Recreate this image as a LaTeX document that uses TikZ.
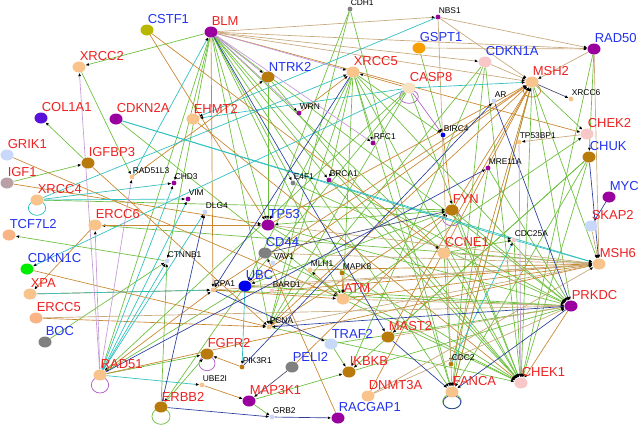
\documentclass[tikz,border=0pt]{standalone}
\usepackage{fontspec}
\setmainfont{Liberation Sans}
\usetikzlibrary{arrows.meta,shapes.geometric}
\pgfdeclarelayer{bg}
\pgfsetlayers{bg,main}
\definecolor{cG}{HTML}{6CBF3C}
\definecolor{cB}{HTML}{C8862E}
\definecolor{cN}{HTML}{C9A87A}
\definecolor{cT}{HTML}{2EC0C0}
\definecolor{cD}{HTML}{2A3FA0}
\definecolor{cK}{HTML}{4A4A70}
\definecolor{cL}{HTML}{C49AD6}
\definecolor{cP}{HTML}{B060C8}
\definecolor{nOr}{HTML}{F8C48C}
\definecolor{nPu}{HTML}{99009E}
\definecolor{nBr}{HTML}{B97A0C}
\definecolor{nGy}{HTML}{808080}
\definecolor{nLb}{HTML}{C8D8F8}
\definecolor{nPk}{HTML}{F8C8C8}
\definecolor{nCr}{HTML}{F8E2C2}
\definecolor{nGs}{HTML}{F5A000}
\definecolor{nOl}{HTML}{B8B800}
\definecolor{nGn}{HTML}{00EE00}
\definecolor{nBl}{HTML}{0000EE}
\definecolor{nCo}{HTML}{5A10D8}
\definecolor{nIg}{HTML}{B8A0A6}
\definecolor{nSa}{HTML}{F8B484}
\definecolor{lR}{HTML}{EE2222}
\definecolor{lB}{HTML}{2233EE}
\tikzset{
  bign/.style={ellipse, minimum width=9.75pt, minimum height=8.25pt, inner sep=0pt, draw=none},
  smalln/.style={circle, minimum size=3.6pt, inner sep=0pt, draw=none},
  bigl/.style={font=\fontsize{9.75}{10}\selectfont, inner sep=0pt, anchor=west},
  smalll/.style={font=\fontsize{6.3}{7}\selectfont, inner sep=0pt, anchor=west, text=black},
  lnk/.style={line width=0.5pt, -{Latex[length=2.6pt,width=2.2pt,color=black]}},
  eG/.style={lnk, draw=cG},
  eB/.style={lnk, draw=cB},
  eN/.style={lnk, draw=cN},
  eT/.style={lnk, draw=cT},
  eD/.style={lnk, draw=cD},
  eK/.style={lnk, draw=cK},
  eL/.style={lnk, draw=cL},
  eP/.style={lnk, draw=cP},
  loopc/.style={line width=0.55pt}
}
\newcommand{\BN}[5]{\node[bign,fill=#4] (#1) at (#2,#3) {}; \node[bigl,text=#5] (#1-l) at (#2+0.5,#3-10.5) {#1};}
\newcommand{\SNd}[4]{\node[smalln,fill=#4] (#1) at (#2,#3) {}; \node[smalll] (#1-l) at (#2+0.5,#3-6) {#1};}
\begin{document}
\begin{tikzpicture}[x=0.75pt,y=-0.75pt]
\useasboundingbox (0,0) rectangle (639,426);
% big nodes
\BN{CSTF1}{147}{30}{nOl}{lB}
\BN{BLM}{211}{32}{nPu}{lR}
\BN{XRCC2}{79}{67}{nOr}{lR}
\BN{COL1A1}{41}{118}{nCo}{lR}
\BN{CDKN2A}{116}{119}{nPu}{lR}
\BN{EHMT2}{193}{119}{nOr}{lR}
\BN{GRIK1}{7}{155}{nLb}{lR}
\BN{IGFBP3}{88}{163}{nBr}{lR}
\BN{IGF1}{7}{183}{nIg}{lR}
\BN{XRCC4}{37}{200}{nOr}{lR}
\BN{NTRK2}{268}{77}{nBr}{lB}
\BN{XRCC5}{353}{72}{nOr}{lR}
\BN{GSPT1}{419}{48}{nGs}{lB}
\BN{CASP8}{409}{88}{nCr}{lR}
\BN{RAD50}{594}{49}{nPu}{lB}
\BN{CDKN1A}{485}{62}{nPk}{lB}
\BN{MSH2}{532}{82}{nOr}{lR}
\BN{CHEK2}{587}{134}{nPk}{lR}
\BN{CHUK}{589}{157}{nBr}{lB}
\BN{MYC}{609}{197}{nPu}{lB}
\BN{FYN}{452}{210}{nBr}{lR}
\BN{ERCC6}{95}{225}{nOr}{lR}
\BN{TCF7L2}{9}{235}{nSa}{lB}
\BN{CDKN1C}{27}{269}{nGn}{lB}
\BN{XPA}{30}{294}{nOr}{lR}
\BN{ERCC5}{36}{318}{nSa}{lR}
\BN{BOC}{45}{342}{nGy}{lB}
\BN{FGFR2}{207}{354}{nBr}{lR}
\BN{RAD51}{100}{375}{nOr}{lR}
\BN{ERBB2}{161}{407}{nBr}{lR}
\BN{TP53}{268}{225}{nPu}{lB}
\BN{CD44}{265}{253}{nGy}{lB}
\BN{UBC}{245}{286}{nBl}{lB}
\BN{ATM}{343}{299}{nOr}{lR}
\BN{MAST2}{388}{337}{nBr}{lR}
\BN{TRAF2}{331}{344}{nLb}{lB}
\BN{PELI2}{292}{367}{nGy}{lB}
\BN{IKBKB}{349}{372}{nBr}{lR}
\BN{DNMT3A}{368}{396}{nOr}{lR}
\BN{MAP3K1}{249}{401}{nPu}{lR}
\BN{RACGAP1}{338}{418}{nPu}{lB}
\BN{SKAP2}{591}{226}{nLb}{lR}
\BN{CCNE1}{444}{253}{nOr}{lR}
\BN{MSH6}{599}{264}{nOr}{lR}
\BN{PRKDC}{571}{306}{nPu}{lR}
\BN{CHEK1}{521}{383}{nPk}{lR}
\BN{FANCA}{452}{392}{nOr}{lR}
% small nodes
\SNd{RAD51L3}{132}{177}{nOr}
\SNd{CHD3}{174}{183}{nPu}
\SNd{VIM}{188}{199}{nPu}
\SNd{DLG4}{205}{212}{nLb}
\SNd{CDH1}{350}{9}{nGy}
\SNd{WRN}{299}{113}{nPu}
\SNd{RFC1}{373}{143}{nPu}
\SNd{E4F1}{293}{183}{nGy}
\SNd{BRCA1}{329}{180}{nPu}
\SNd{NBS1}{438}{17}{nPu}
\SNd{AR}{494}{101}{nLb}
\SNd{XRCC6}{571}{99}{nOr}
\SNd{BIRC4}{443}{135}{nBl}
\SNd{TP53BP1}{519}{142}{nOr}
\SNd{MRE11A}{488}{168}{nPu}
\SNd{CTNNB1}{167}{261}{nLb}
\SNd{RPA1}{213}{290}{nOr}
\SNd{UBE2I}{202}{385}{nOr}
\SNd{VAV1}{273}{263}{nLb}
\SNd{MLH1}{310}{270}{nOr}
\SNd{MAPK8}{342}{273}{nBr}
\SNd{BARD1}{272}{291}{nPk}
\SNd{PCNA}{269}{327}{nOr}
\SNd{PIK3R1}{242}{367}{nBr}
\SNd{GRB2}{272}{417}{nLb}
\SNd{CDC25A}{514}{240}{nPk}
\SNd{CDC2}{451}{364}{nBr}
\begin{pgfonlayer}{bg}
\fill[white] (0,0) rectangle (639,426);
% self loops
\draw[loopc,cT] ([yshift=-6pt]XRCC4.center) ellipse [x radius=6.5pt, y radius=5.5pt];
\draw[loopc,cP] ([yshift=-6.5pt]CASP8.center) ellipse [x radius=7pt, y radius=5pt];
\draw[loopc,cB] ([yshift=-6.5pt]MSH2.center) ellipse [x radius=6.5pt, y radius=4.8pt];
\draw[loopc,cP] ([yshift=-6.5pt]FYN.center) ellipse [x radius=7pt, y radius=5.3pt];
\draw[loopc,cP] ([yshift=-7pt]FGFR2.center) ellipse [x radius=6pt, y radius=5.5pt];
\draw[loopc,cP] ([yshift=-7.5pt]RAD51.center) ellipse [x radius=6.5pt, y radius=6pt];
\draw[loopc,cG] ([yshift=-7pt]ERBB2.center) ellipse [x radius=6.8pt, y radius=6pt];
\draw[loopc,cG] ([yshift=-7pt]FANCA.center) ellipse [x radius=7pt, y radius=5.5pt];
\draw[loopc,cD] ([yshift=-7.6pt]FANCA.center) ellipse [x radius=6.6pt, y radius=5pt];
% green
\foreach \a/\b in {BLM/XRCC2,BLM/TP53,BLM/ATM,BLM/FANCA,BLM/CHEK1,BLM/PRKDC,BLM/E4F1,BLM/BRCA1,
  BLM/RAD51,BLM/CTNNB1,BLM/CCNE1,BLM/PCNA,IGFBP3/COL1A1,IGF1/IGFBP3,XRCC2/RAD51L3,CDKN2A/ATM,
  CDH1/PCNA,CDH1/FANCA,NTRK2/TP53,XRCC5/PCNA,XRCC5/UBC,XRCC5/ATM,XRCC5/PRKDC,
  XRCC5/RFC1,XRCC5/CHEK1,XRCC5/FANCA,XRCC5/BRCA1,CASP8/PCNA,CASP8/UBC,CASP8/RAD51,CASP8/CHEK1,
  GSPT1/BIRC4,CDKN1A/PCNA,CDKN1A/FANCA,CDKN1A/CHEK1,MSH2/MSH6,MSH2/PRKDC,MSH2/CHEK1,MSH2/FANCA,
  MSH2/CHEK2,RAD50/CHUK,CHUK/IKBKB,CHUK/FANCA,CHUK/CHEK1,MRE11A/PRKDC,FYN/PRKDC,FYN/CHEK1,
  FYN/UBC,MSH6/ERCC6,FYN/TP53,XRCC4/FYN,CCNE1/CDC25A,CCNE1/CDC2,CCNE1/CHEK1,CDC25A/CHEK1,
  CTNNB1/TCF7L2,BOC/CTNNB1,ERBB2/CTNNB1,RAD51/FGFR2,UBC/RAD51,UBC/ERBB2,
  MAP3K1/IKBKB,MAP3K1/GRB2,ATM/CHEK1,ATM/CHEK2,TP53/CHEK1,TP53/PRKDC,
  BRCA1/CHEK1,BRCA1/PRKDC,RPA1/PRKDC,UBC/PRKDC,PCNA/CHEK1,IKBKB/PRKDC,TRAF2/PRKDC,
  CD44/CHEK1,CDH1/TP53,NTRK2/CHEK1,TRAF2/IKBKB,MRE11A/FANCA,CHUK/MAST2,
  XRCC5/BIRC4,RAD50/CHEK1,CDKN1A/IKBKB,E4F1/PRKDC,BLM/CHD3,ERBB2/FGFR2}
  \draw[eG] (\a) -- (\b);
% brown
\foreach \a/\b in {CSTF1/TP53,BLM/RPA1,BLM/CHEK2,GRIK1/ATM,IGFBP3/PCNA,RAD51L3/NTRK2,WRN/XRCC5,
  CASP8/XRCC5,FYN/MSH2,BIRC4/FYN,ERCC6/XPA,CDKN1C/PCNA,ERCC5/PCNA,RAD51/RPA1,PCNA/MSH2,
  RPA1/MSH2,TP53/MSH2,UBC/MSH2,ATM/MSH6,DNMT3A/MSH2,MLH1/MSH6,MAPK8/ATM,PRKDC/CHEK1,
  EHMT2/CHEK1,RACGAP1/CD44,XPA/RPA1,RAD51/MSH6,FANCA/MSH2,IGF1/TP53,CSTF1/CCNE1,
  PELI2/FYN,MAST2/MSH2,BARD1/MSH6,ATM/MLH1,CDC2/MSH2,PCNA/FYN,ERCC6/TP53,RPA1/ATM,
  UBE2I/MAP3K1,PIK3R1/FGFR2}
  \draw[eB] (\a) -- (\b);
% tan
\foreach \a/\b in {BLM/NBS1,BLM/RAD50,BLM/CDKN1A,BLM/MSH2,NBS1/MSH2,NBS1/RAD50,RAD50/MSH2,
  RAD50/MSH6,CHEK2/TP53BP1,CCNE1/MSH6,RPA1/MSH6,UBC/MSH6,PCNA/MSH6,TP53/MSH6,SKAP2/MSH6,
  DNMT3A/PRKDC,MAST2/PRKDC,ATM/PRKDC,ERCC5/PRKDC,NBS1/FANCA,GSPT1/RAD50,CD44/MSH6,
  DNMT3A/MSH6,CDKN1A/MSH2}
  \draw[eN] (\a) -- (\b);
% teal
\foreach \a/\b in {CDKN2A/CDC25A,CDKN2A/MSH6,XRCC4/CHD3,XRCC4/VIM,XRCC4/XRCC5,CASP8/EHMT2,
  CASP8/MSH2,NBS1/EHMT2,RAD51/CHD3,RAD51/VIM,RAD51/DLG4,RAD51/CTNNB1,RAD51/UBE2I,
  UBC/PIK3R1,CDC25A/MSH6,CDC2/CDC25A,CASP8/CDKN1C,XPA/RPA1,RAD51L3/BLM}
  \draw[eT] (\a) -- (\b);
% dark blue
\foreach \a/\b in {BLM/MAST2,AR/PRKDC,PIK3R1/AR,RPA1/TRAF2,PRKDC/PCNA,MYC/SKAP2,GRB2/RACGAP1,
  MAST2/FANCA,RAD51/MRE11A,CHUK/MSH6,ERBB2/DLG4,XRCC5/RPA1,ERBB2/GRB2,PRKDC/FANCA}
  \draw[eD] (\a) -- (\b);
\foreach \a/\b in {MSH2/XRCC6,CD44/FYN,PELI2/MAP3K1}
  \draw[eK] (\a) -- (\b);
% lilac
\foreach \a/\b in {RAD51/XRCC2,RAD51/RAD51L3,BLM/XRCC5,BLM/WRN,BLM/RFC1,TP53BP1/CHEK1,
  BLM/NTRK2,RAD51/ERCC6}
  \draw[eL] (\a) -- (\b);
\draw[eP] (CASP8) -- (BIRC4);
\end{pgfonlayer}
\end{tikzpicture}
\end{document}
